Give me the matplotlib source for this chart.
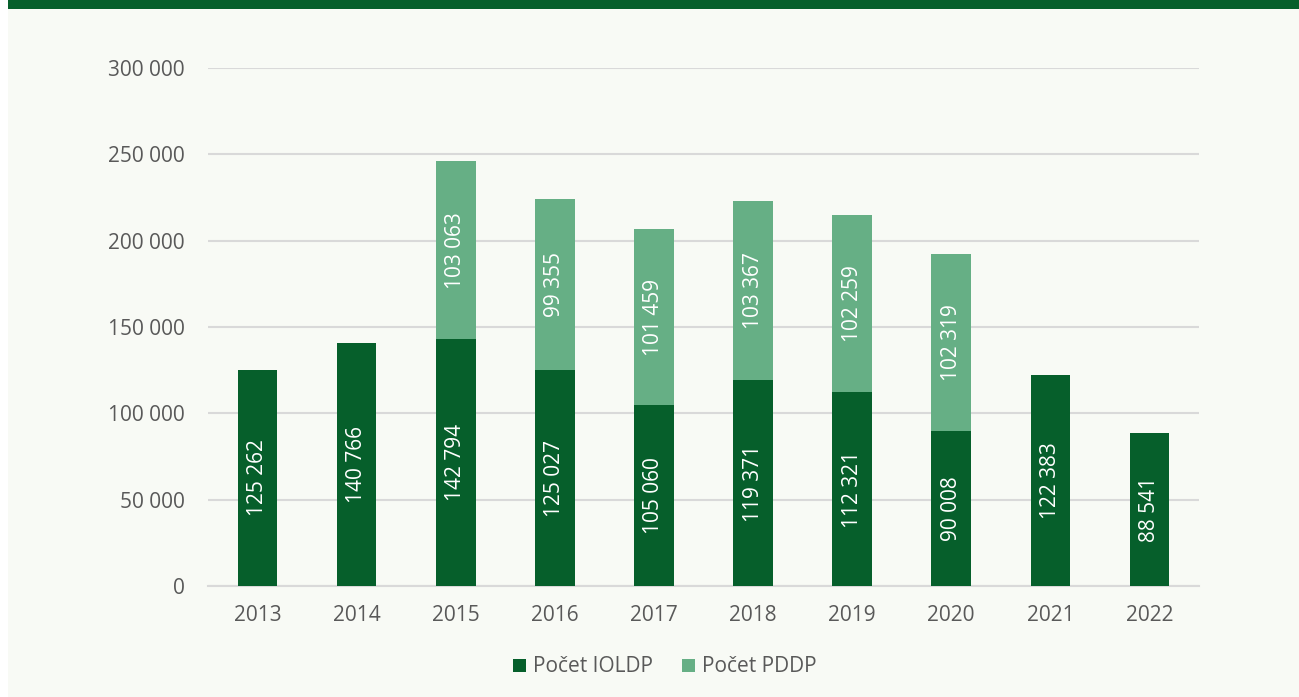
import numpy as np
import matplotlib
matplotlib.use("Agg")
from matplotlib import pyplot as plt
from matplotlib.patches import Rectangle

roky = ["2013", "2014", "2015", "2016", "2017", "2018", "2019", "2020", "2021", "2022"]
ioldp = [125262, 140766, 142794, 125027, 105060, 119371, 112321, 90008, 122383, 88541]
pddp = [None, None, 103063, 99355, 101459, 103367, 102259, 102319, None, None]

dark = "#065f2b"
light = "#66af85"
bg = "#f8faf5"
grid = "#d9d9d9"
txt = "#595959"

plt.rcParams["font.family"] = ["Open Sans", "DejaVu Sans"]

def fmt(v):
    return "{:,}".format(int(v)).replace(",", " ")

fig = plt.figure(figsize=(12.99, 6.97), dpi=100)
fig.patch.set_facecolor("white")
# pozadi a horni pruh
fig.patches.append(Rectangle((8 / 1299, 0), 1, 1, transform=fig.transFigure,
                             facecolor=bg, edgecolor="none", zorder=-10))
fig.patches.append(Rectangle((8 / 1299, 1 - 9 / 697), 1, 9 / 697, transform=fig.transFigure,
                             facecolor=dark, edgecolor="none", zorder=-9))

ax = fig.add_axes([208 / 1299, 1 - 586 / 697, 991 / 1299, 518 / 697])
ax.set_facecolor("none")

x = np.arange(len(roky))
w = 0.4
b1 = ax.bar(x, ioldp, width=w, color=dark, label="Počet IOLDP", zorder=3)
p_vals = [v if v is not None else 0 for v in pddp]
b2 = ax.bar(x, p_vals, width=w, bottom=ioldp, color=light, label="Počet PDDP", zorder=3)

for i in range(len(roky)):
    ax.text(x[i], ioldp[i] / 2, fmt(ioldp[i]), rotation=90, ha="center", va="center",
            color="white", fontsize=15, zorder=4)
    if pddp[i] is not None:
        ax.text(x[i], ioldp[i] + pddp[i] / 2, fmt(pddp[i]), rotation=90, ha="center",
                va="center", color="white", fontsize=15, zorder=4)

ax.set_xlim(-0.5, len(roky) - 0.5)
ax.set_ylim(0, 300000)
ticks = np.arange(0, 300001, 50000)
ax.set_yticks(ticks)
ax.set_yticklabels([fmt(t) for t in ticks])
ax.set_xticks(x)
ax.set_xticklabels(roky)
ax.yaxis.grid(True, color=grid, linewidth=1.5, zorder=0)
ax.set_axisbelow(True)
for s in ["top", "right", "left"]:
    ax.spines[s].set_visible(False)
ax.spines["bottom"].set_color(grid)
ax.spines["bottom"].set_linewidth(1.5)
ax.tick_params(axis="both", length=0, labelsize=15, labelcolor=txt)
ax.tick_params(axis="y", pad=16.5)
ax.tick_params(axis="x", pad=14)

leg = fig.legend(handles=[b1, b2], loc="center", bbox_to_anchor=(665 / 1299, 1 - 667 / 697),
                 ncol=2, frameon=False, fontsize=15, handlelength=0.6, handleheight=0.6,
                 handletextpad=0.35, columnspacing=1.4)
for t in leg.get_texts():
    t.set_color(txt)

plt.savefig("out.png", dpi=100, facecolor=fig.get_facecolor())
